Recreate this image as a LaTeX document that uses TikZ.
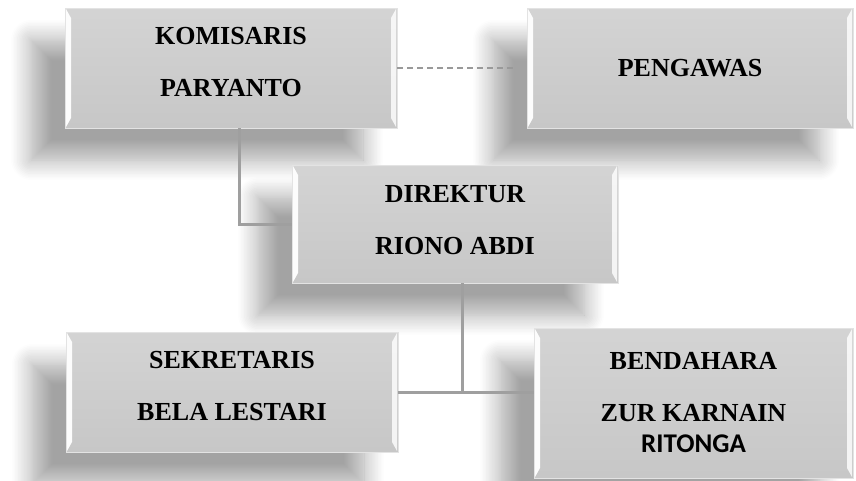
\documentclass[tikz,border=0pt]{standalone}
\usepackage{fontspec}
\setmainfont{Liberation Serif}
\newfontfamily\ritongafont{Carlito}
\usetikzlibrary{positioning,calc,shadows.blur}

\tikzset{
  posbox/.style={rectangle, minimum width=#1, top color=gray!34, bottom color=gray!44,
    draw=gray!22, line width=0.6pt, align=center, inner sep=0pt,
    font=\fontsize{26}{52}\selectfont\bfseries,
    blur shadow={shadow xshift=-34pt, shadow yshift=-32pt, shadow blur radius=20pt,
      shadow blur steps=14, shadow opacity=36},
    path picture={
      \fill[white, opacity=0.95] ($(path picture bounding box.north west)+(1pt,-1pt)$) -- ++(5pt,-9pt)
        -- ($(path picture bounding box.south west)+(6pt,10pt)$) -- ++(-5pt,-9pt) -- cycle;
      \fill[white, opacity=0.8] ($(path picture bounding box.north east)+(-1pt,-1pt)$) -- ++(-5pt,-9pt)
        -- ($(path picture bounding box.south east)+(-6pt,10pt)$) -- ++(5pt,-9pt) -- cycle;
    }},
  posbox/.default=330pt,
  link/.style={draw=gray!75, line width=3pt}
}

\begin{document}
\begin{tikzpicture}[x=1pt, y=-1pt]
			\useasboundingbox (0,0) rectangle (856,480);
			\node[posbox=332pt, minimum height=120pt, text depth=12pt] (komisaris) at (231,68) {KOMISARIS\\PARYANTO};
			\node[posbox=326pt, minimum height=120pt] (pengawas) at (690,68) {PENGAWAS};
			\node[posbox=326pt, minimum height=118pt, text depth=9pt] (direktur) at (455,224) {DIREKTUR\\RIONO ABDI};
			\node[posbox=332pt, minimum height=120pt, text depth=12pt] (sekretaris) at (232,392) {SEKRETARIS\\BELA LESTARI};
			\node[posbox=319pt, minimum height=150pt] (bendahara) at (693.5,403) {BENDAHARA\\ZUR KARNAIN\\[-21pt]{\ritongafont\fontsize{27}{52}\selectfont\bfseries RITONGA}};

			\begin{scope}[link]
			\draw ([xshift=8pt]komisaris.south) |- (direktur.west);
			\draw ([xshift=7pt]direktur.south) -- ([xshift=7pt]direktur.south |- sekretaris.east);
			\draw (sekretaris.east) -- (sekretaris.east -| bendahara.west);
			\end{scope}
			\draw[draw=gray!80, line width=1.2pt, dash pattern=on 6pt off 4pt, shorten >=12pt] (komisaris.east) -- (pengawas.west);
\end{tikzpicture}
\end{document}
